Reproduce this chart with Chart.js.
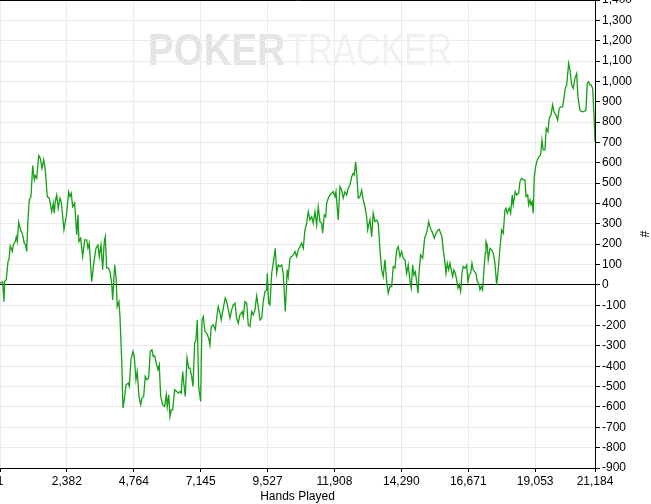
<!DOCTYPE html>
<html>
<head>
<meta charset="utf-8">
<script src="https://cdn.jsdelivr.net/npm/chart.js@4/dist/chart.umd.min.js"></script>
<style>
  html, body { margin: 0; padding: 0; background: #fff; }
  #wrap { width: 651px; height: 504px; }
</style>
</head>
<body>
<div id="wrap"><canvas id="grafico" width="651" height="504"></canvas></div>
<script>
// Mãos jogadas (eixo X) e resultado acumulado (eixo Y)
const maos = [
  1, 96, 142, 167, 224, 285, 320, 367, 438, 473, 545, 580, 616, 666, 737, 808, 865, 915, 951, 997,
  1043, 1104, 1164, 1221, 1257, 1307, 1378, 1435, 1495, 1556, 1613, 1684, 1755, 1841, 1897, 1933, 1969, 2019, 2075, 2136,
  2182, 2278, 2375, 2446, 2492, 2538, 2588, 2659, 2731, 2777, 2812, 2873, 2944, 3015, 3087, 3133, 3179, 3265, 3346, 3418,
  3489, 3535, 3596, 3656, 3713, 3749, 3799, 3870,
  3916, 3977, 4012, 4083, 4130, 4176, 4236, 4272, 4333, 4379, 4425, 4486, 4567, 4603, 4664, 4735, 4781, 4842, 4888, 4948,
  5009, 5055, 5116, 5173, 5233, 5294, 5351, 5411, 5457, 5507, 5579, 5625, 5671, 5721, 5792, 5863, 5920, 5956, 6006, 6052,
  6098, 6148, 6219, 6291, 6347, 6408, 6454, 6504, 6550, 6597, 6657, 6718, 6764, 6825, 6871, 6931, 6978, 7024, 7074, 7145,
  7191, 7237, 7298, 7359, 7430, 7476, 7522, 7593, 7665, 7715, 7771, 7832, 7878, 7949, 8021, 8071, 8117,
  8188, 8249, 8305, 8366, 8427, 8483, 8544, 8626, 8661, 8722, 8783, 8839, 8900, 8961, 9017, 9078, 9139, 9195, 9256, 9317,
  9373, 9434, 9495, 9516, 9566, 9612, 9673, 9729, 9801, 9851, 9907, 9968, 10029, 10085, 10157, 10228, 10263, 10324, 10385, 10441,
  10502, 10563, 10619, 10680, 10741, 10797, 10858, 10919, 10975, 11036, 11097, 11153, 11214, 11275, 11331, 11392, 11453, 11488, 11545, 11595,
  11631, 11687, 11748, 11809, 11865, 11926, 11962, 12043, 12104, 12165, 12221, 12282, 12343, 12399, 12460, 12521, 12577, 12613, 12663, 12709,
  12755, 12816, 12877, 12933, 12994, 13055, 13090,
  13172, 13233, 13289, 13350, 13411, 13467, 13528, 13589, 13645, 13706, 13767, 13823, 13884, 13945, 14001, 14062, 14123, 14179, 14240, 14301,
  14357, 14418, 14479, 14535, 14596, 14642, 14692, 14738, 14785, 14835, 14881, 14927, 14977, 15048, 15119, 15166, 15212, 15262, 15308, 15354,
  15404, 15461, 15522, 15582, 15639, 15689, 15735, 15781, 15831, 15878, 15924, 15974, 16020, 16066, 16116, 16162, 16209, 16259, 16305, 16351,
  16401, 16447, 16493, 16554, 16615, 16661, 16707, 16757, 16803, 16849, 16899, 16946, 16992, 17042, 17088, 17134, 17184, 17230, 17277, 17302,
  17348, 17383, 17444, 17505, 17561, 17622, 17683, 17739,
  17800, 17861, 17917, 17978, 18014, 18060, 18131, 18181, 18238, 18273, 18345, 18395, 18466, 18512, 18573, 18629, 18690, 18726, 18786, 18822,
  18868, 18904, 18950, 18985, 19021, 19071, 19128, 19188, 19249, 19295, 19341, 19402, 19448, 19509, 19555, 19616, 19676, 19722, 19794, 19854,
  19911, 19972, 20032, 20078, 20125, 20175, 20246, 20292, 20353, 20409, 20470, 20531, 20577, 20648, 20709, 20790, 20862, 20908, 20958, 21004,
  21050, 21100, 21146, 21184
];

const resultado = [
  8, 15, -83, 16, 25, 114, 123, 191, 164, 196, 213, 237, 213, 308, 270, 246, 205, 196, 164, 319,
  417, 434, 586, 516, 537, 524, 635, 622, 573, 614, 565, 434, 426, 360, 401, 352, 409, 442, 377, 426,
  409, 270, 352, 458, 434, 450, 384, 401, 246, 344, 213, 229, 139, 221, 221, 180, 205, 16, 114, 180,
  196, 139, 196, 74, 213, 237, 82, 82,
  65, 8, -74, 98, 41, -107, -82, -156, -368, -605, -565, -491, -483, -499, -368, -327, -352, -466, -426, -548,
  -589, -556, -548, -450, -466, -458, -327, -319, -352, -349, -393, -417, -393, -548, -589, -598, -540, -598, -540, -647,
  -614, -614, -516, -524, -532, -524, -532, -426, -491, -548, -360, -409, -409, -450, -499, -286, -270, -172, -499, -573,
  -172, -156, -229, -237, -262, -295, -205, -196, -221, -164, -107, -139, -172, -114, -65, -82, -114,
  -164, -123, -98, -90, -164, -188, -147, -131, -156, -82, -90, -196, -205, -131, -147, -123, -54, -107, -172, -164,
  -82, -33, -25, 57, -90, -98, 57, 107, 180, 57, 98, 90, 98, 57, -131, 74, 41, 131, 139, 147,
  164, 139, 172, 188, 205, 180, 270, 303, 360, 319, 335, 303, 360, 295, 384, 311, 303, 254, 344, 335,
  401, 426, 442, 450, 458, 434, 458, 319, 483, 466, 426, 458, 442, 475, 491, 532, 548, 540, 605, 532,
  426, 434, 466, 417, 384, 335, 270,
  319, 237, 352, 311, 319, 303, 172, 74, 41, 123, 16, -41, -8, -8, 90, 82, 172, 188, 139, 164,
  131, 123, 57, 98, 16, -16, 98, 49, 65, 16, -41, 74, 147, 131, 229, 246, 270, 311, 286, 270,
  254, 229, 254, 267, 273, 254, 237, 172, 123, 57, 107, 74, 107, 74, 41, 74, 57, 25, -16, 0,
  -33, 57, 90, 82, 98, 16, 49, 57, 107, 74, 65, 57, 16, 8, -25, -8, -25, 74, 156, 213,
  196, 123, 180, 172, 156, 107, 0, 74,
  180, 270, 254, 368, 377, 352, 377, 352, 442, 393, 458, 442, 450, 507, 524, 516, 516, 434, 442, 393,
  417, 393, 409, 352, 532, 581, 614, 630, 638, 712, 663, 663, 769, 753, 819, 835, 884, 851, 835, 810,
  868, 875, 875, 917, 966, 982, 1089, 1056, 982, 966, 1015, 1039, 925, 859, 851, 851, 859, 990, 998, 982,
  982, 966, 843, 704
];

// Marcas do eixo X e limites do eixo Y
const ticksMaos = [1, 2382, 4764, 7145, 9527, 11908, 14290, 16671, 19053, 21184];
const yMin = -900;
const yMax = 1400;
const yPasso = 100;

const pontos = maos.map((m, i) => ({ x: m, y: resultado[i] }));

// marca d'água e linha superior
const extras = {
    id: 'extras',
    beforeDraw(chart) {
        const c = chart.ctx;
        c.save();
        c.textBaseline = 'alphabetic';
        c.font = 'bold 44px "Liberation Sans", Arial, sans-serif';
        c.fillStyle = '#e4e4e4';
        c.fillText('POKER', 148, 65, 137);
        c.font = '44px "Liberation Sans", Arial, sans-serif';
        c.fillStyle = '#f1f1f1';
        c.fillText('TRACKER', 287, 65, 165);
        c.restore();
    },
    afterDraw(chart) {
        const c = chart.ctx;
        const a = chart.chartArea;
        c.save();
        c.strokeStyle = '#000';
        c.lineWidth = 1;
        c.beginPath();
        c.moveTo(a.left, a.top + 0.5);
        c.lineTo(a.right, a.top + 0.5);
        c.stroke();
        c.restore();
    }
};

const fonte = { family: '"Liberation Sans", Arial, sans-serif', size: 12 };

new Chart(document.getElementById('grafico').getContext('2d'), {
    type: 'line',
    data: {
        datasets: [{
            data: pontos,
            borderColor: '#14a014',
            borderWidth: 1.3,
            pointRadius: 0,
            tension: 0,
            fill: false
        }]
    },
    options: {
        responsive: false,
        animation: false,
        devicePixelRatio: 1,
        layout: { autoPadding: false, padding: 0 },
        plugins: {
            legend: { display: false },
            tooltip: { enabled: false }
        },
        scales: {
            x: {
                type: 'linear',
                min: 1,
                max: 21184,
                afterBuildTicks: (s) => { s.ticks = ticksMaos.map(v => ({ value: v })); },
                afterFit: (s) => { s.height = 36; s.paddingLeft = 0; s.paddingRight = 0; },
                border: { color: '#000', width: 1 },
                grid: { color: '#ebebeb', tickColor: '#000', tickLength: 4 },
                ticks: {
                    autoSkip: false,
                    maxRotation: 0,
                    padding: 2,
                    color: '#000',
                    font: fonte,
                    callback: (v) => v.toLocaleString('en-US')
                },
                title: {
                    display: true,
                    text: 'Hands Played',
                    color: '#000',
                    font: fonte,
                    padding: { top: 0, bottom: 0 }
                }
            },
            y: {
                position: 'right',
                min: yMin,
                max: yMax,
                afterFit: (s) => { s.width = 56; s.paddingTop = 0; s.paddingBottom = 0; },
                border: { color: '#000', width: 1 },
                grid: {
                    color: (c) => (c.tick && c.tick.value === 0 ? '#000' : '#ebebeb'),
                    tickColor: '#000',
                    tickLength: 5
                },
                ticks: {
                    stepSize: yPasso,
                    autoSkip: false,
                    padding: 2,
                    color: '#000',
                    font: fonte,
                    callback: (v) => v.toLocaleString('en-US')
                },
                title: {
                    display: true,
                    text: '#',
                    color: '#000',
                    font: fonte,
                    padding: 0
                }
            }
        }
    },
    plugins: [extras]
});
</script>
</body>
</html>
